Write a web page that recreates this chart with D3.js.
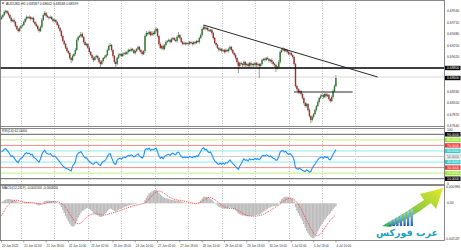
<!DOCTYPE html>
<html>
<head>
<meta charset="utf-8">
<script src="https://cdn.jsdelivr.net/npm/d3@7"></script>
<style>
  html, body { margin: 0; padding: 0; background: #fff; }
  svg { display: block; font-family: "Liberation Sans", Arial, sans-serif; }
</style>
</head>
<body>
<svg id="chart" width="461" height="250"></svg>
<script>
// ---- data ----
const headerText = 'AUDUSD,H1  0.68587 0.68602 0.68568 0.68599';
const PIP = 0.0001;
const firstOpen = 0.6978;

// hourly closes, bar 0 = 20 Jun 10:00 ... bar 240 = 4 Jul 10:00
const closes = [
  0.6982,0.6986,0.6992,0.6994,0.6990,0.6986,0.6980,0.6974,0.6976,0.6972,
  0.6964,0.6958,0.6954,0.6960,0.6964,0.6966,0.6972,0.6978,0.6982,0.6980,
  0.6982,0.6978,0.6980,0.6972,0.6968,0.6964,0.6958,0.6954,0.6962,0.6976,
  0.6986,0.6990,0.6984,0.6982,0.6980,0.6982,0.6978,0.6974,0.6976,0.6972,
  0.6966,0.6960,0.6954,0.6944,0.6934,0.6928,0.6920,0.6914,0.6910,0.6900,
  0.6896,0.6904,0.6908,0.6916,0.6936,0.6942,0.6944,0.6948,0.6942,0.6932,
  0.6926,0.6928,0.6920,0.6912,0.6906,0.6900,0.6896,0.6902,0.6904,0.6900,
  0.6892,0.6888,0.6894,0.6900,0.6902,0.6906,0.6916,0.6924,0.6926,0.6916,
  0.6904,0.6892,0.6888,0.6900,0.6906,0.6908,0.6904,0.6908,0.6910,0.6908,
  0.6912,0.6916,0.6914,0.6918,0.6916,0.6910,0.6914,0.6918,0.6922,0.6916,
  0.6912,0.6908,0.6914,0.6944,0.6950,0.6948,0.6952,0.6946,0.6950,0.6948,
  0.6954,0.6958,0.6944,0.6928,0.6920,0.6924,0.6918,0.6926,0.6932,0.6934,
  0.6936,0.6932,0.6938,0.6940,0.6936,0.6934,0.6942,0.6946,0.6940,0.6932,
  0.6928,0.6930,0.6928,0.6930,0.6928,0.6932,0.6930,0.6928,0.6932,0.6930,
  0.6934,0.6932,0.6940,0.6946,0.6958,0.6962,0.6958,0.6960,0.6956,0.6954,
  0.6956,0.6950,0.6940,0.6930,0.6926,0.6920,0.6916,0.6918,0.6914,0.6916,
  0.6912,0.6916,0.6914,0.6918,0.6922,0.6916,0.6910,0.6906,0.6900,0.6892,
  0.6884,0.6890,0.6888,0.6886,0.6892,0.6886,0.6888,0.6884,0.6890,0.6886,
  0.6888,0.6886,0.6890,0.6886,0.6888,0.6884,0.6888,0.6896,0.6898,0.6896,
  0.6900,0.6898,0.6894,0.6896,0.6892,0.6888,0.6886,0.6880,0.6882,0.6892,
  0.6912,0.6916,0.6918,0.6914,0.6916,0.6912,0.6908,0.6910,0.6906,0.6902,
  0.6888,0.6844,0.6838,0.6832,0.6834,0.6828,0.6820,0.6810,0.6804,0.6808,
  0.6796,0.6784,0.6776,0.6782,0.6788,0.6796,0.6804,0.6812,0.6820,0.6824,
  0.6826,0.6822,0.6828,0.6824,0.6826,0.6818,0.6814,0.6822,0.6834,0.6844,0.6860
];
// wick lengths beyond the body, in pips
const hiWick = [
  3,2,3,2,2,3,2,3,2,3, 2,3,2,3,2,2,3,2,3,2, 3,2,2,3,2,3,2,2,3,4, 3,4,2,3,2,3,2,2,3,2,
  2,3,2,2,3,2,2,3,2,2, 2,3,2,4,3,3,2,4,3,2, 3,2,2,3,2,2,3,2,3,2, 2,3,2,2,3,2,3,3,4,2,
  2,2,3,2,3,2,2,3,2,3, 2,3,2,3,2,2,3,2,3,2, 2,3,2,3,4,3,3,2,4,3, 3,4,2,2,3,2,3,2,3,2,
  3,2,3,2,2,3,3,6,2,2, 2,3,2,2,3,2,2,3,2,2, 2,2,3,3,3,4,3,3,2,2, 2,3,2,2,3,2,2,3,2,2,
  2,3,2,3,3,2,2,2,3,2, 3,2,3,2,3,2,2,3,2,3, 2,3,2,2,3,2,2,3,2,3, 2,3,2,2,3,2,2,3,2,4,
  3,3,4,2,3,2,2,3,2,2, 2,2,3,2,3,2,2,3,2,3, 2,3,2,3,2,3,2,3,2,3, 3,2,3,2,3,2,2,3,3,3,6
];
const loWick = [
  2,3,2,3,2,3,2,3,2,3, 3,2,3,2,2,3,2,2,3,2, 2,3,2,2,3,2,3,3,2,3, 2,2,3,2,3,2,2,3,2,2,
  2,2,3,3,2,3,2,3,3,3, 6,3,2,3,2,3,2,3,2,3, 2,3,2,3,2,3,4,2,3,3, 3,6,2,3,2,3,2,2,2,3,
  3,4,6,3,2,3,2,2,3,2, 2,3,2,2,3,2,3,2,2,3, 3,3,2,4,2,3,2,3,2,3, 2,3,3,3,2,3,3,2,3,2,
  2,3,2,3,2,2,3,2,3,2, 3,2,3,2,3,2,2,3,2,3, 2,2,3,2,3,2,3,2,3,2, 2,3,3,2,3,2,3,2,3,2,
  3,2,2,3,2,3,2,3,3,3, 14,3,3,4,3,4,3,4,3,4, 3,4,3,4,3,24,3,3,2,3, 3,2,3,3,4,3,4,8,3,3,
  3,2,2,3,2,3,2,3,2,3, 3,3,3,4,3,3,3,3,3,3, 3,3,6,3,3,2,3,2,3,2, 2,3,2,3,2,3,3,2,3,2,2
];
const rsiValues = [
  58,60,63,64,61,58,54,50,51,48, 44,41,39,44,47,48,52,55,57,55, 56,53,54,49,47,45,42,40,46,54,
  59,61,57,55,54,55,52,50,51,49, 46,43,40,36,33,31,29,28,27,25, 24,33,36,41,52,56,57,59,55,50,
  47,48,44,41,39,37,36,39,40,38, 35,34,38,41,42,45,50,54,55,48, 42,37,36,43,46,47,45,48,49,48,
  50,52,51,53,52,49,51,53,55,51, 49,47,51,62,64,63,65,61,63,62, 64,65,58,51,47,49,46,50,52,53,
  54,52,55,56,54,53,57,58,54,50, 48,49,48,49,48,50,49,48,50,49, 51,50,55,59,64,66,62,63,59,57,
  58,53,47,42,40,37,36,38,36,38, 36,39,38,41,44,40,37,35,32,29, 27,33,37,42,46,43,44,42,46,44,
  45,44,47,45,46,44,47,51,52,51, 53,52,50,51,49,47,46,43,44,50, 58,60,61,58,59,56,54,55,53,50,
  43,30,28,27,29,27,25,24,23,26, 24,22,23,29,33,36,40,44,47,48, 49,47,50,48,49,45,44,49,54,58,62
];
const rsiLevels = [90, 80, 70, 60, 50, 40, 30, 20, 10];
// MACD main (histogram) and signal, in millionths
const macdMain = [
  60,110,170,210,240,250,240,220,200,170, 140,100,60,40,30,30,40,60,70,60,
  50,30,20,-10,-40,-70,-100,-120,-90,-20, 60,120,140,150,150,140,130,110,90,70,
  30,-20,-90,-220,-380,-540,-720,-880,-1020,-1160, -1280,-1330,-1300,-1200,-1010,-820,-680,-540,-440,-400,
  -330,-280,-280,-320,-380,-460,-560,-600,-640,-680, -740,-780,-760,-700,-620,-540,-440,-350,-300,-330,
  -380,-440,-470,-420,-370,-330,-300,-260,-220,-190, -160,-130,-110,-80,-60,-60,-50,-30,0,10,
  0,-10,20,180,330,450,560,620,680,730, 760,770,700,600,500,430,360,320,290,260,
  240,210,200,190,170,150,150,160,130,90, 60,40,20,10,0,-10,-10,-20,-10,-10,
  0,10,70,160,270,370,380,360,330,290, 250,190,110,20,-60,-140,-200,-230,-270,-290,
  -310,-300,-300,-280,-250,-260,-300,-340,-400,-480, -580,-620,-660,-700,-700,-720,-730,-740,-730,-730,
  -720,-710,-690,-670,-650,-640,-600,-530,-470,-420, -360,-310,-260,-210,-180,-160,-150,-150,-120,-20,
  120,230,310,350,370,370,350,320,280,240, 100,-230,-420,-580,-720,-860,-1000,-1180,-1380,-1560,
  -1700,-1820,-1920,-1990,-1990,-1900,-1760,-1600,-1440,-1300, -1180,-1060,-930,-830,-720,-640,-560,-440,-320,-230,-160
];
const macdSignal = [
  -700,-560,-420,-290,-180,-90,-10,60,120,170, 180,170,150,130,110,90,70,50,40,40,
  40,40,40,30,20,10,-10,-30,-40,-40, -30,-10,10,40,60,80,90,100,100,100,
  90,70,40,0,-60,-140,-240,-350,-470,-600, -730,-860,-980,-1080,-1140,-1170,-1160,-1110,-1040,-960,
  -880,-800,-730,-680,-640,-620,-610,-600,-600,-610, -620,-640,-660,-670,-670,-660,-640,-610,-580,-560,
  -540,-520,-500,-480,-450,-420,-390,-360,-330,-300, -270,-240,-220,-190,-160,-140,-120,-100,-80,-60,
  -40,-30,-10,20,80,160,250,340,430,520, 590,650,690,700,690,660,610,550,490,430,
  380,330,290,260,230,210,190,180,170,160, 140,120,100,80,60,40,20,10,0,-10,
  -10,0,20,60,110,170,230,280,320,340, 330,300,260,210,150,90,30,-30,-90,-150,
  -200,-240,-270,-290,-300,-300,-300,-310,-330,-370, -420,-470,-520,-570,-610,-650,-680,-700,-720,-730,
  -740,-740,-740,-730,-720,-700,-680,-660,-630,-590, -550,-500,-450,-400,-350,-300,-250,-200,-150,-100,
  -40,30,100,160,210,250,280,290,280,250, 210,140,50,-60,-190,-330,-480,-640,-800,-960,
  -1120,-1280,-1430,-1570,-1690,-1780,-1830,-1840,-1810,-1740, -1650,-1540,-1420,-1300,-1180,-1070,-970,-880,-800,-720,-650
];
const priceTicks = [0.6994, 0.6971, 0.6948, 0.6925, 0.6902, 0.6833, 0.6810, 0.6787, 0.6764];
const supportPrice = 0.6880;
const bidPrice = 0.6860;
const trendLine = [{ bar: 145, price: 0.6966 }, { bar: 270, price: 0.6862 }];
const shortLine = { from: 210, to: 252, price: 0.6832 };
const dayStartBars = [14, 38, 62, 86, 110, 134, 158, 182, 206, 230, 254];
const timeLabels = ['20 Jun 2022', '21 Jun 02:00', '21 Jun 18:00', '22 Jun 10:00', '23 Jun 02:00',
  '23 Jun 18:00', '24 Jun 10:00', '27 Jun 02:00', '27 Jun 18:00', '28 Jun 10:00', '29 Jun 02:00',
  '29 Jun 18:00', '30 Jun 10:00', '1 Jul 02:00', '1 Jul 18:00', '4 Jul 10:00'];
const timeLabelBars = [0, 16, 32, 48, 64, 80, 96, 112, 128, 144, 160, 176, 192, 208, 224, 240];
const macdAxisLabels = ['0.000986', '0.00', '-0.002149'];

// ---- layout ----
const W = 461, H = 250;
const plotRight = 444.5;
const mainP = { top: 0.5, bottom: 126.5 };
const rsiP = { top: 128.5, bottom: 184.5 };
const macdP = { top: 185.5, bottom: 240.5 };
const axisFont = 3.4;

const svg = d3.select('#chart');
svg.append('rect').attr('width', W).attr('height', H).attr('fill', '#fff');

const x = d3.scaleLinear().domain([0, 240]).range([1.5, 335.9]);
const yP = d3.scaleLinear().domain([0.6760, 0.7016]).range([128, 0]);
const yR = d3.scaleLinear().domain([0, 100]).range([184.25, 128.75]);
const yM = d3.scaleLinear().domain([-2149, 986]).range([241, 186]);
const barW = x(1) - x(0);

const bars = closes.map((c, i) => {
  const o = i === 0 ? firstOpen : closes[i - 1];
  return { i, o, c, h: Math.max(o, c) + hiWick[i] * PIP, l: Math.min(o, c) - loWick[i] * PIP };
});

// vertical day grid in every pane
[mainP, rsiP, macdP].forEach(p => {
  svg.append('g').selectAll('line').data(dayStartBars).join('line')
    .attr('x1', d => Math.round(x(d)) + 0.5).attr('x2', d => Math.round(x(d)) + 0.5)
    .attr('y1', p.top).attr('y2', p.bottom)
    .attr('stroke', '#a8a8a8').attr('stroke-width', 0.8).attr('stroke-dasharray', '1,1.5');
});

// ---- main pane ----
const main = svg.append('g');
main.append('line').attr('x1', 0).attr('x2', plotRight)
  .attr('y1', yP(bidPrice) - 1).attr('y2', yP(bidPrice) - 1).attr('stroke', '#cdcdcd').attr('stroke-width', 0.8);

const candle = main.append('g').selectAll('g').data(bars).join('g');
candle.append('line')
  .attr('x1', d => x(d.i)).attr('x2', d => x(d.i))
  .attr('y1', d => yP(d.h)).attr('y2', d => yP(d.l))
  .attr('stroke', '#9c9c9c').attr('stroke-width', 1);
candle.append('rect')
  .attr('x', d => x(d.i) - 0.7).attr('width', 1.4)
  .attr('y', d => yP(Math.max(d.o, d.c)))
  .attr('height', d => Math.max(0.6, Math.abs(yP(d.o) - yP(d.c))))
  .attr('fill', d => d.c >= d.o ? '#2f7d32' : '#a3302c');

main.append('line').attr('x1', 0).attr('x2', plotRight)
  .attr('y1', yP(supportPrice)).attr('y2', yP(supportPrice))
  .attr('stroke', '#000').attr('stroke-width', 1.4);
main.append('line')
  .attr('x1', x(trendLine[0].bar)).attr('y1', yP(trendLine[0].price))
  .attr('x2', x(trendLine[1].bar)).attr('y2', yP(trendLine[1].price))
  .attr('stroke', '#111').attr('stroke-width', 0.9);
main.append('line')
  .attr('x1', x(shortLine.from)).attr('x2', x(shortLine.to))
  .attr('y1', yP(shortLine.price)).attr('y2', yP(shortLine.price))
  .attr('stroke', '#111').attr('stroke-width', 0.9);

main.append('path').attr('d', 'M1.5,2.5 L4.5,2.5 L3,4.5 Z').attr('fill', '#555');
main.append('text').attr('x', 6).attr('y', 5).attr('font-size', axisFont).attr('fill', '#222')
  .text(headerText);

// ---- RSI pane ----
const levelStyle = {
  90: { line: '#606060', box: '#000', txt: '#fff' },
  80: { line: '#ccf59a', box: '#99e633', txt: '#fff' },
  70: { line: '#f08a8a', box: '#ee3333', txt: '#fff' },
  60: { line: '#8fe8ec', box: '#33cccc', txt: '#fff' },
  50: { line: '#cfcfcf', box: '#f4f4f4', txt: '#555' },
  40: { line: '#8fe8ec', box: '#33cccc', txt: '#fff' },
  30: { line: '#f08a8a', box: '#ee3333', txt: '#fff' },
  20: { line: '#ccf59a', box: '#99e633', txt: '#fff' },
  10: { line: '#606060', box: '#000', txt: '#fff' }
};
const rsiG = svg.append('g');
rsiG.selectAll('line.lvl').data(rsiLevels).join('line')
  .attr('x1', 0).attr('x2', plotRight)
  .attr('y1', d => yR(d)).attr('y2', d => yR(d))
  .attr('stroke', d => levelStyle[d].line)
  .attr('stroke-width', d => (d === 80 || d === 20) ? 1.4 : 1);
rsiG.append('path').datum(rsiValues)
  .attr('d', d3.line().x((d, i) => x(i)).y(d => yR(d)))
  .attr('fill', 'none').attr('stroke', '#1e90ff').attr('stroke-width', 1.1);
rsiG.append('text').attr('x', 2).attr('y', rsiP.top + 3.8).attr('font-size', axisFont).attr('fill', '#222')
  .text('RSI(14) ' + rsiValues[rsiValues.length - 1].toFixed(4));

// ---- MACD pane ----
const macdG = svg.append('g');
macdG.selectAll('rect').data(macdMain).join('rect')
  .attr('x', (d, i) => x(i) - barW / 2).attr('width', barW + 0.1)
  .attr('y', d => yM(Math.max(0, d)))
  .attr('height', d => Math.abs(yM(d) - yM(0)))
  .attr('fill', '#bdbdbd');
macdG.append('path').datum(macdSignal)
  .attr('d', d3.line().x((d, i) => x(i)).y(d => yM(d)))
  .attr('fill', 'none').attr('stroke', '#ff3030').attr('stroke-width', 0.9)
  .attr('stroke-dasharray', '1,1');
const fmtM = v => (v / 1e6).toFixed(6);
macdG.append('text').attr('x', 2).attr('y', macdP.top + 3.8).attr('font-size', axisFont).attr('fill', '#222')
  .text('MACD(12,26,9) ' + fmtM(macdMain[macdMain.length - 1]) + ' ' + fmtM(macdSignal[macdSignal.length - 1]));

// ---- logo watermark ----
const logo = svg.append('g');
const defs = svg.append('defs');
const ag = defs.append('linearGradient').attr('id', 'arrowGrad')
  .attr('x1', '0%').attr('y1', '100%').attr('x2', '100%').attr('y2', '0%');
ag.append('stop').attr('offset', '0%').attr('stop-color', '#2fae5a');
ag.append('stop').attr('offset', '100%').attr('stop-color', '#e8e826');
const bg = defs.append('linearGradient').attr('id', 'barGrad')
  .attr('x1', '0').attr('y1', '1').attr('x2', '0').attr('y2', '0');
bg.append('stop').attr('offset', '0%').attr('stop-color', '#1d5fb0');
bg.append('stop').attr('offset', '100%').attr('stop-color', '#9fd3ee');
logo.append('path')
  .attr('d', 'M382,226 Q404,214 424,200 L420,194 L443,188 L436,209 L431,203 Q410,219 390,227 Z')
  .attr('fill', 'url(#arrowGrad)');
const logoBars = [5, 7, 9, 11, 13, 15, 17];
logo.selectAll('rect').data(logoBars).join('rect')
  .attr('x', (d, i) => 389 + i * 3.6).attr('width', 2.3)
  .attr('y', d => 226 - d).attr('height', d => d)
  .attr('fill', 'url(#barGrad)');
logo.append('text').attr('x', 407).attr('y', 236).attr('text-anchor', 'middle')
  .attr('font-family', '"DejaVu Sans", sans-serif').attr('font-size', 9.5).attr('font-weight', 'bold')
  .attr('fill', '#1f9fc0').text('عرب فوركس');

// ---- frames ----
const frame = svg.append('g').attr('stroke', '#6a6a6a').attr('stroke-width', 0.8).attr('fill', 'none');
[mainP, rsiP, macdP].forEach(p => {
  frame.append('line').attr('x1', 0).attr('x2', plotRight).attr('y1', p.top).attr('y2', p.top);
  frame.append('line').attr('x1', 0).attr('x2', plotRight).attr('y1', p.bottom).attr('y2', p.bottom);
});
frame.append('line').attr('x1', plotRight).attr('x2', plotRight).attr('y1', 0).attr('y2', macdP.bottom);
frame.append('line').attr('x1', 0.5).attr('x2', 0.5).attr('y1', 0).attr('y2', macdP.bottom);

// ---- right price axis ----
const axisG = svg.append('g').attr('font-size', axisFont).attr('fill', '#333');
axisG.selectAll('text.pt').data(priceTicks).join('text')
  .attr('x', plotRight + 2.5).attr('y', d => yP(d) + 1.2)
  .text(d => d.toFixed(5));
const priceBox = (price, fill) => {
  const y = yP(price);
  axisG.append('rect').attr('x', plotRight + 0.5).attr('y', y - 2.2).attr('width', 15.5).attr('height', 4.4).attr('fill', fill);
  axisG.append('text').attr('x', plotRight + 2.5).attr('y', y + 1.2).attr('fill', '#fff').text(price.toFixed(5));
};
priceBox(supportPrice, '#000');
priceBox(bidPrice, '#000');

axisG.append('text').attr('x', plotRight + 2.5).attr('y', yR(100) + 2.2).text('100');
axisG.append('text').attr('x', plotRight + 2.5).attr('y', yR(0) + 0.4).text('0');
rsiLevels.forEach(l => {
  const y = yR(l), s = levelStyle[l];
  axisG.append('rect').attr('x', plotRight + 0.5).attr('y', y - 2.2).attr('width', 15.5).attr('height', 4.4)
    .attr('fill', s.box).attr('stroke', l === 50 ? '#bbb' : 'none').attr('stroke-width', 0.4);
  axisG.append('text').attr('x', plotRight + 2.5).attr('y', y + 1.2).attr('fill', s.txt).text(l.toFixed(4));
});
axisG.append('text').attr('x', plotRight + 1.5).attr('y', macdP.top + 2.8).text(macdAxisLabels[0]);
axisG.append('text').attr('x', plotRight + 2.5).attr('y', yM(0) + 1.2).text(macdAxisLabels[1]);
axisG.append('text').attr('x', plotRight + 0.8).attr('y', macdP.bottom - 0.8).attr('font-size', 3.1).text(macdAxisLabels[2]);

// ---- time axis ----
const tG = svg.append('g').attr('font-size', 3).attr('fill', '#333');
tG.selectAll('line').data(timeLabelBars).join('line')
  .attr('x1', d => x(d)).attr('x2', d => x(d)).attr('y1', macdP.bottom).attr('y2', macdP.bottom + 2)
  .attr('stroke', '#666').attr('stroke-width', 0.6);
tG.selectAll('text').data(timeLabels).join('text')
  .attr('x', (d, i) => x(timeLabelBars[i]) + 0.5).attr('y', 246.5)
  .text(d => d);
</script>
</body>
</html>
